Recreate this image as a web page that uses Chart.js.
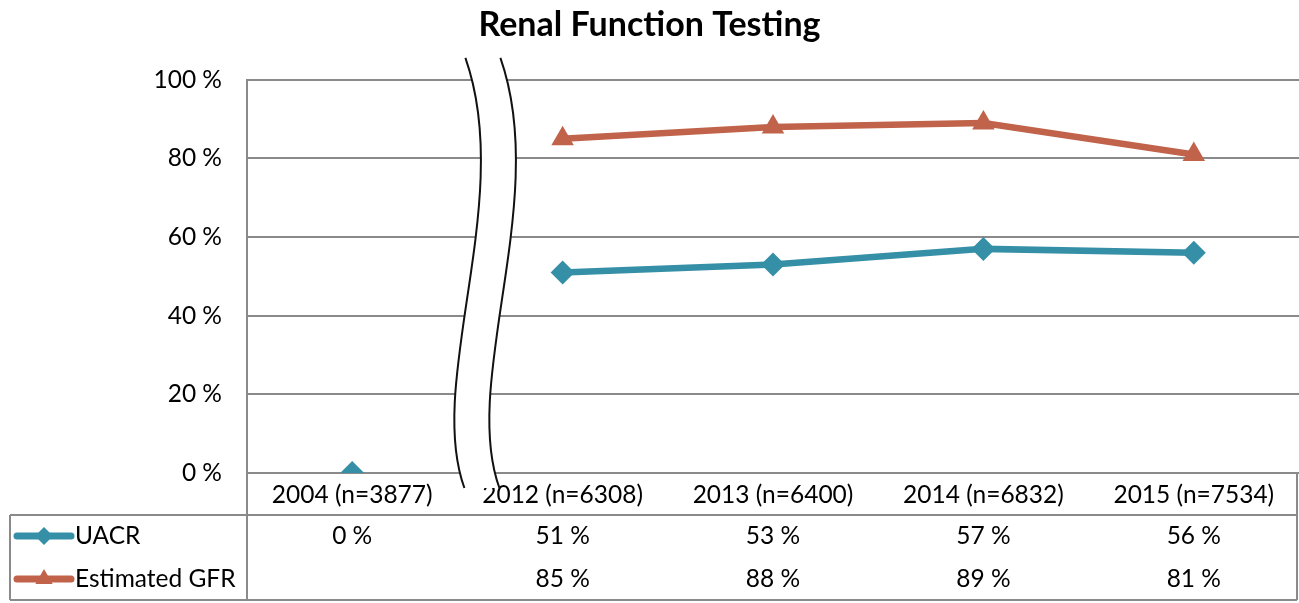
<!DOCTYPE html>
<html>
<head>
<meta charset="utf-8">
<script src="https://cdn.jsdelivr.net/npm/chart.js@4/dist/chart.umd.min.js"></script>
<style>
  html, body { margin: 0; padding: 0; background: #fff; }
  canvas { display: block; }
</style>
</head>
<body>
<canvas id="chart" width="1299" height="603"></canvas>
<script>
// data
const years = ['2004 (n=3877)', '2012 (n=6308)', '2013 (n=6400)', '2014 (n=6832)', '2015 (n=7534)'];
const uacr = [0, 51, 53, 57, 56];
const gfr = [null, 85, 88, 89, 81];
const seriesNames = ['UACR', 'Estimated GFR'];
const yTicks = [0, 20, 40, 60, 80, 100];

const TEAL = '#358fa6';
const RUST = '#c0634a';
const GRID = '#8a8a8a';
const FONT = 'Lato, "Noto Sans", sans-serif';
const TXT = 24.5;

// axis break drawn between first and second category
const breakPlugin = {
  id: 'axisBreak',
  afterDatasetsDraw(chart) {
    const { ctx, chartArea, scales } = chart;
    const xs = scales.x;
    const xb = (xs.getPixelForValue(0) + xs.getPixelForValue(1)) / 2;
    const top = chartArea.top - 22;
    const bot = chartArea.bottom + 15;
    const h = bot - top;
    const w = 35;
    const curve = (dx) => [
      [xb + 8 + dx, top],
      [xb + 58 + dx, top + 0.33 * h],
      [xb - 32 + dx, top + 0.75 * h],
      [xb + 7 + dx, bot],
    ];
    const L = curve(0), R = curve(w);
    ctx.save();
    ctx.beginPath();
    ctx.moveTo(L[0][0], L[0][1]);
    ctx.bezierCurveTo(L[1][0], L[1][1], L[2][0], L[2][1], L[3][0], L[3][1]);
    ctx.lineTo(R[3][0], R[3][1]);
    ctx.bezierCurveTo(R[2][0], R[2][1], R[1][0], R[1][1], R[0][0], R[0][1]);
    ctx.closePath();
    ctx.fillStyle = '#fff';
    ctx.fill();
    ctx.strokeStyle = '#111';
    ctx.lineWidth = 2;
    [L, R].forEach((c) => {
      ctx.beginPath();
      ctx.moveTo(c[0][0], c[0][1]);
      ctx.bezierCurveTo(c[1][0], c[1][1], c[2][0], c[2][1], c[3][0], c[3][1]);
      ctx.stroke();
    });
    ctx.restore();
  },
};

// data table under the plot, with legend keys in the first column
const tablePlugin = {
  id: 'dataTable',
  afterDraw(chart) {
    const { ctx, chartArea, scales } = chart;
    const xs = scales.x;
    const left = 10, right = chartArea.right - 2, axisX = chartArea.left;
    const row1 = chartArea.bottom + 42, bottom = chartArea.bottom + 127;
    const rowMid = [row1 + 21, row1 + 64];
    ctx.save();
    ctx.strokeStyle = GRID;
    ctx.lineWidth = 2;
    ctx.beginPath();
    ctx.moveTo(left, row1); ctx.lineTo(right, row1);
    ctx.moveTo(left, bottom); ctx.lineTo(right, bottom);
    ctx.moveTo(left, row1); ctx.lineTo(left, bottom);
    ctx.moveTo(axisX, chartArea.bottom); ctx.lineTo(axisX, bottom);
    ctx.moveTo(right, chartArea.bottom); ctx.lineTo(right, bottom);
    ctx.stroke();

    const rows = [
      { name: seriesNames[0], data: uacr, color: TEAL, style: 'rectRot', r: 9 },
      { name: seriesNames[1], data: gfr, color: RUST, style: 'triangle', r: 10 },
    ];
    ctx.font = TXT + 'px ' + FONT;
    ctx.textBaseline = 'middle';
    rows.forEach((row, i) => {
      const y = rowMid[i];
      ctx.strokeStyle = row.color;
      ctx.lineWidth = 7;
      ctx.lineCap = 'round';
      ctx.beginPath();
      ctx.moveTo(17, y); ctx.lineTo(71, y);
      ctx.stroke();
      ctx.fillStyle = row.color;
      Chart.helpers.drawPoint(ctx, { pointStyle: row.style, radius: row.r, rotation: 0, borderWidth: 0 }, 44, y);
      ctx.fillStyle = '#000';
      ctx.textAlign = 'left';
      ctx.fillText(row.name, 75, y);
      ctx.textAlign = 'center';
      row.data.forEach((v, j) => {
        if (v === null) return;
        ctx.fillText(v + ' %', xs.getPixelForValue(j), y);
      });
    });
    ctx.restore();
  },
};

new Chart(document.getElementById('chart'), {
  type: 'line',
  data: {
    labels: years,
    datasets: [
      {
        label: seriesNames[0],
        data: uacr,
        borderColor: TEAL,
        backgroundColor: TEAL,
        borderWidth: 6.5,
        pointStyle: 'rectRot',
        pointRadius: 12,
        pointHoverRadius: 12,
        pointBorderWidth: 0,
        segment: { borderColor: (c) => (c.p0DataIndex === 0 ? 'transparent' : undefined) },
      },
      {
        label: seriesNames[1],
        data: gfr,
        borderColor: RUST,
        backgroundColor: RUST,
        borderWidth: 6.5,
        pointStyle: 'triangle',
        pointRadius: 13,
        pointHoverRadius: 13,
        pointBorderWidth: 0,
        spanGaps: false,
      },
    ],
  },
  options: {
    responsive: false,
    animation: false,
    layout: { autoPadding: false, padding: { left: 0, right: 0, top: 0, bottom: 0 } },
    plugins: {
      legend: { display: false },
      tooltip: { enabled: false },
      title: {
        display: true,
        text: 'Renal Function Testing',
        color: '#000',
        font: { family: FONT, size: 34, weight: 'bold' },
        padding: { top: 5, bottom: 34 },
      },
    },
    scales: {
      x: {
        offset: true,
        grid: { display: false, drawTicks: false },
        border: { display: false },
        ticks: { color: '#000', font: { family: FONT, size: TXT }, padding: 7, maxRotation: 0, autoSkip: false },
        afterFit: (s) => { s.height = 130; },
      },
      y: {
        min: 0,
        max: 100,
        afterBuildTicks: (s) => { s.ticks = yTicks.map((v) => ({ value: v })); },
        grid: { color: GRID, lineWidth: 2, drawTicks: false },
        border: { display: true, color: GRID, width: 2 },
        ticks: { color: '#000', font: { family: FONT, size: TXT }, padding: 25, callback: (v) => v + ' %' },
        afterFit: (s) => { s.width = 247; },
      },
    },
  },
  plugins: [breakPlugin, tablePlugin],
});
</script>
</body>
</html>
